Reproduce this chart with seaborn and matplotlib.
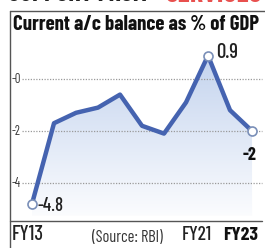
import numpy as np
import pandas as pd
import matplotlib
matplotlib.use("Agg")
import matplotlib.pyplot as plt
import seaborn as sns
from matplotlib.lines import Line2D
from matplotlib.colors import LinearSegmentedColormap

years = ["FY13", "FY14", "FY15", "FY16", "FY17", "FY18", "FY19", "FY20", "FY21", "FY22", "FY23"]
values = [-4.8, -1.7, -1.3, -1.1, -0.6, -1.8, -2.1, -0.9, 0.9, -1.2, -2.0]
ytick_vals = [0, -2, -4]
ytick_labels = ["-0", "-2", "-4"]
title = "Current a/c balance as % of GDP"
source = "(Source: RBI)"

sns.set_style("white")
COND = ["Barlow Condensed", "DejaVu Sans"]
plt.rcParams["font.family"] = COND

W, H = 265, 248
fig = plt.figure(figsize=(W / 100, H / 100), dpi=100)
renderer = fig.canvas.get_renderer()

def fx(px):
    return px / W

def fy(py):
    return 1 - py / H

def fit_text(x, y, s, width_px, max_size=30, **kw):
    t = fig.text(fx(x), fy(y), s, fontsize=10, ha="left", va="center", **kw)
    w = t.get_window_extent(renderer).width
    size = min(10 * width_px / w, max_size)
    t.set_fontsize(size)
    return t

# axes region in pixels
ax_l, ax_r, ax_t, ax_b = 10, 265, 38, 222
ax = fig.add_axes([fx(ax_l), fy(ax_b), fx(ax_r - ax_l), (ax_b - ax_t) / H])
ax.set_xlim(-1.0, 10.59)
ax.set_ylim(-5.5, 1.577)

df = pd.DataFrame({"idx": np.arange(len(years)), "val": values, "year": years})

# gradient fill under the line
xs = df["idx"].values
ys = df["val"].values
poly = ax.fill_between(xs, ys, -5.25, color="none", lw=0)
grad = np.linspace(0, 1, 256).reshape(-1, 1)
cmap = LinearSegmentedColormap.from_list("g", ["#fbfcfe", "#c3d3ee"])
img = ax.imshow(grad, extent=[0, 10, -5.25, 1.0], origin="lower", aspect="auto",
                cmap=cmap, zorder=1)
img.set_clip_path(poly.get_paths()[0], transform=ax.transData)

# dotted gridlines
for v in ytick_vals:
    ax.axhline(v, xmin=(22 - ax_l) / (ax_r - ax_l), xmax=(262 - ax_l) / (ax_r - ax_l),
               color="#9a9a9a", lw=0.9, ls=(0, (1, 1.2)), zorder=2)

sns.lineplot(data=df, x="idx", y="val", ax=ax, color="#4563b0", lw=3.2, zorder=3,
             solid_capstyle="round", solid_joinstyle="round")

ends = df[df["year"].isin(["FY13", "FY21", "FY23"])]
ax.scatter(ends["idx"], ends["val"], s=42, facecolor="white", edgecolor="#7a8fb8",
           lw=1.2, zorder=4)

ax.set_xticks([])
ax.set_yticks([])
for s in ax.spines.values():
    s.set_visible(False)
ax.set_xlabel("")
ax.set_ylabel("")

# y tick labels
for v, lab in zip(ytick_vals, ytick_labels):
    ax.text(-0.92, v, lab, fontsize=9, ha="left", va="center", color="#333333")

# value annotations
fit_text(38, 206, "-4.8", 26, color="#222222", fontweight="medium")
fit_text(216, 52, "0.9", 22, color="#222222", fontweight="medium")
fit_text(243, 155, "-2", 14, color="#111111", fontweight="bold")

# title
fit_text(13, 25, title, 246, color="#111111", fontweight="bold")
# cut-off heading at the very top
fit_text(8, -6, "SUPPORT FROM", 140, color="#222222", fontweight="bold")
fit_text(165, -6, "SERVICES", 96, color="#e8504e", fontweight="bold")

# x labels
fit_text(12, 235, "FY13", 32, color="#222222", fontweight="medium")
fit_text(92, 238, source, 71, color="#333333")
fit_text(182, 235, "FY21", 30, color="#222222", fontweight="medium")
fit_text(223, 235, "FY23", 35, color="#111111", fontweight="bold")

# frame lines
fig.add_artist(Line2D([fx(10), fx(265)], [fy(11), fy(11)], color="#555555", lw=1.0))
fig.add_artist(Line2D([fx(10), fx(10)], [fy(11), fy(248)], color="#555555", lw=1.0))
fig.add_artist(Line2D([fx(10), fx(262)], [fy(221), fy(221)], color="#555555", lw=1.0))

fig.savefig("out.png", dpi=100, facecolor="white")
